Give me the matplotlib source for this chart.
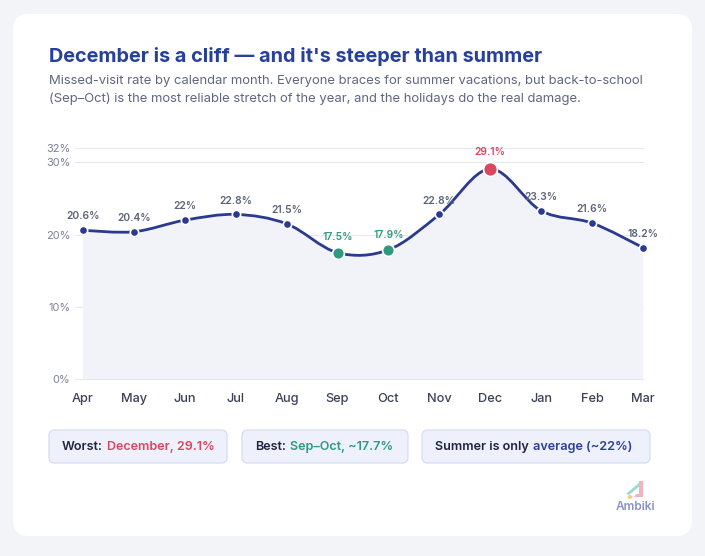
import matplotlib.pyplot as plt
import numpy as np
from matplotlib.patches import FancyBboxPatch, PathPatch, Polygon, Circle
from matplotlib.path import Path

plt.rcParams['font.family'] = ['Inter', 'DejaVu Sans']

# data
months = ['Apr', 'May', 'Jun', 'Jul', 'Aug', 'Sep', 'Oct', 'Nov', 'Dec', 'Jan', 'Feb', 'Mar']
rates = [20.6, 20.4, 22.0, 22.8, 21.5, 17.5, 17.9, 22.8, 29.1, 23.3, 21.6, 18.2]
labels = ['20.6%', '20.4%', '22%', '22.8%', '21.5%', '17.5%', '17.9%', '22.8%', '29.1%', '23.3%', '21.6%', '18.2%']
best_months = ['Sep', 'Oct']
worst_month = 'Dec'
yticks = [0, 10, 20, 30, 32]

NAVY = '#2a3a8f'
GREEN = '#2f9a7f'
RED = '#d9485f'
GRAY = '#5b6479'
DARK = '#1f2540'

W, H = 705, 556
fig = plt.figure(figsize=(W / 100, H / 100), dpi=100)
fig.patch.set_facecolor('#f3f4f8')

def fx(px):
    return px / W

def fy(py):
    return 1 - py / H

# white card
card = FancyBboxPatch((fx(13), fy(536)), fx(692) - fx(13), fy(14) - fy(536),
                      boxstyle='round,pad=0,rounding_size=0.022', transform=fig.transFigure,
                      facecolor='white', edgecolor='none', mutation_aspect=W / H, zorder=-10)
fig.patches.append(card)

fig.text(fx(49), fy(56), "December is a cliff \u2014 and it's steeper than summer",
         fontsize=14.3, fontweight='bold', color='#27409a', va='center', ha='left')
fig.text(fx(49), fy(81), 'Missed-visit rate by calendar month. Everyone braces for summer vacations, but back-to-school',
         fontsize=9.4, color='#5f6780', va='center', ha='left')
fig.text(fx(49), fy(99), '(Sep\u2013Oct) is the most reliable stretch of the year, and the holidays do the real damage.',
         fontsize=9.4, color='#5f6780', va='center', ha='left')

# chart
ax = fig.add_axes([fx(83), fy(379), fx(643) - fx(83), fy(148) - fy(379)])
ax.set_facecolor('none')
x = np.arange(len(months))
y = np.array(rates)

# catmull-rom curve as cubic bezier segments
verts = [(x[0], y[0])]
codes = [Path.MOVETO]
n = len(x)
for i in range(n - 1):
    p0 = np.array([x[max(i - 1, 0)], y[max(i - 1, 0)]])
    p1 = np.array([x[i], y[i]])
    p2 = np.array([x[i + 1], y[i + 1]])
    p3 = np.array([x[min(i + 2, n - 1)], y[min(i + 2, n - 1)]])
    c1 = p1 + (p2 - p0) / 6
    c2 = p2 - (p3 - p1) / 6
    verts += [tuple(c1), tuple(c2), tuple(p2)]
    codes += [Path.CURVE4] * 3
line_path = Path(verts, codes)
fill_path = Path(verts + [(x[-1], 0), (x[0], 0), (x[0], y[0])],
                 codes + [Path.LINETO, Path.LINETO, Path.CLOSEPOLY])
ax.add_patch(PathPatch(fill_path, facecolor='#f1f3f8', edgecolor='none', zorder=1))
ax.add_patch(PathPatch(line_path, facecolor='none', edgecolor=NAVY, lw=2.0, zorder=3,
                       capstyle='round'))

for t in yticks:
    ax.plot([-0.15, 11], [t, t], color='#e6e8f1', lw=0.8, zorder=0.5, clip_on=False)

for i, m in enumerate(months):
    if m == worst_month:
        col, size, off = RED, 10, 12
    elif m in best_months:
        col, size, off = GREEN, 8.5, 11
    else:
        col, size, off = NAVY, 6, 10
    ax.plot(x[i], y[i], 'o', ms=size, color=col, mec='white', mew=1.2, zorder=4, clip_on=False)
    tcol = col if col != NAVY else GRAY
    ax.annotate(labels[i], (x[i], y[i]), xytext=(0, off), textcoords='offset points',
                ha='center', va='center', fontsize=7.4, fontweight='semibold', color=tcol)

ax.set_xlim(0, 11)
ax.set_ylim(0, 32)
ax.set_xticks(x)
ax.set_xticklabels(months, fontsize=9.2, color='#3b4157', fontweight='medium')
ax.set_yticks(yticks)
ax.set_yticklabels([f'{t}%' for t in yticks], fontsize=7.9, color='#7b8299')
ax.tick_params(axis='x', length=0, pad=10)
ax.tick_params(axis='y', length=0, pad=9)
for s in ax.spines.values():
    s.set_visible(False)

# pills
pills = [(49, 227, 'Worst:', 'December, 29.1%', RED),
         (242, 408, 'Best:', 'Sep\u2013Oct, ~17.7%', GREEN),
         (422, 650, 'Summer is only', 'average (~22%)', '#2b3f96')]
for x0, x1, lead, rest, col in pills:
    box = FancyBboxPatch((fx(x0), fy(463)), fx(x1) - fx(x0), fy(430) - fy(463),
                         boxstyle='round,pad=0,rounding_size=0.008', transform=fig.transFigure,
                         facecolor='#eef1fc', edgecolor='#d6dcf1', lw=0.9, mutation_aspect=W / H,
                         zorder=-5)
    fig.patches.append(box)
    t1 = fig.text(fx(x0 + 13), fy(447), lead, fontsize=9.1, fontweight='semibold', color=DARK,
                  ha='left', va='center')
    ax.annotate(rest, xy=(1, 0.5), xycoords=t1, xytext=(2.8, 0), textcoords='offset points',
                ha='left', va='center', fontsize=9.1, fontweight='semibold', color=col,
                annotation_clip=False)

# logo
fig.patches.append(Polygon([[fx(626), fy(494)], [fx(641), fy(481)], [fx(641), fy(485)], [fx(629), fy(495)]],
                           closed=True, transform=fig.transFigure, facecolor='#9fd8cf', edgecolor='none'))
fig.patches.append(Polygon([[fx(639), fy(481)], [fx(643), fy(481)], [fx(643), fy(497)], [fx(634), fy(497)],
                            [fx(636), fy(494)], [fx(639), fy(494)]],
                           closed=True, transform=fig.transFigure, facecolor='#f3b3bd', edgecolor='none'))
fig.patches.append(Circle((fx(630), fy(497)), 0.0035, transform=fig.transFigure,
                          facecolor='#f5c98a', edgecolor='none'))
fig.text(fx(635), fy(507), 'Ambiki', fontsize=8.6, fontweight='semibold', color='#8b93c8',
         ha='center', va='center')

fig.savefig('out.png', dpi=100, facecolor=fig.get_facecolor())
